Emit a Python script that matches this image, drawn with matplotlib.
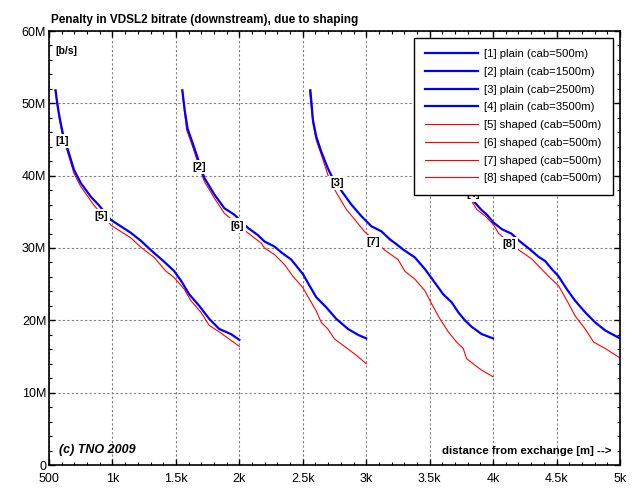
import numpy as np
import matplotlib.pyplot as plt
from matplotlib.ticker import MultipleLocator, FixedLocator

plt.rcParams['font.family'] = ['Liberation Sans', 'DejaVu Sans']

# ---- data (distance [m], bitrate [Mb/s]) ----
plain1_x = [552, 565, 583, 607, 645, 697, 750, 829, 894, 987, 1066, 1145, 1224, 1303, 1408, 1487, 1540, 1605, 1684, 1763, 1842, 1934, 2000]
plain1_y = [51.8, 50.0, 48.1, 46.0, 43.8, 40.8, 39.0, 37.1, 35.9, 33.9, 33.0, 32.1, 31.0, 29.7, 28.1, 26.8, 25.5, 23.6, 22.0, 20.2, 18.8, 18.1, 17.3]
shaped1_x = [548, 565, 583, 607, 645, 697, 750, 855, 992, 1145, 1224, 1329, 1421, 1487, 1566, 1619, 1698, 1763, 1842, 1921, 2000]
shaped1_y = [51.8, 49.7, 47.7, 45.5, 43.3, 40.3, 38.5, 35.9, 33.1, 31.4, 30.1, 28.7, 26.8, 25.9, 24.3, 22.7, 21.1, 19.3, 18.4, 17.4, 16.4]

plain2_x = [1551, 1570, 1592, 1632, 1684, 1724, 1803, 1882, 1961, 2066, 2145, 2198, 2277, 2330, 2409, 2501, 2553, 2606, 2685, 2764, 2857, 2935, 3000]
plain2_y = [51.8, 49.0, 46.5, 44.5, 41.8, 39.7, 37.4, 35.5, 34.6, 32.8, 31.8, 30.9, 30.2, 29.4, 28.4, 26.4, 24.8, 23.2, 21.8, 20.2, 18.8, 18.0, 17.5]
shaped2_x = [1548, 1570, 1585, 1632, 1684, 1724, 1803, 1882, 2066, 2171, 2198, 2277, 2356, 2422, 2501, 2553, 2606, 2646, 2698, 2751, 2844, 2920, 3000]
shaped2_y = [51.8, 48.5, 46.3, 44.0, 41.2, 39.2, 36.9, 34.8, 32.1, 30.7, 30.0, 29.1, 27.7, 26.1, 24.5, 22.9, 21.3, 19.7, 18.8, 17.4, 16.2, 15.2, 14.0]

plain3_x = [2560, 2580, 2606, 2646, 2698, 2740, 2817, 2883, 2962, 3041, 3120, 3186, 3240, 3290, 3383, 3462, 3541, 3607, 3673, 3726, 3778, 3831, 3910, 4000]
plain3_y = [51.8, 47.7, 45.4, 43.3, 41.0, 39.5, 37.6, 36.0, 34.4, 33.0, 32.3, 31.2, 30.5, 29.8, 28.7, 27.1, 25.2, 23.6, 22.5, 21.1, 20.0, 19.1, 18.1, 17.5]
shaped3_x = [2553, 2580, 2606, 2646, 2698, 2766, 2845, 2911, 2985, 3146, 3251, 3304, 3383, 3462, 3515, 3581, 3647, 3712, 3765, 3791, 3857, 3910, 4000]
shaped3_y = [51.8, 47.2, 44.9, 42.9, 40.1, 37.6, 35.3, 33.9, 32.3, 29.7, 28.4, 26.8, 25.7, 24.1, 22.3, 20.2, 18.4, 17.0, 16.1, 14.7, 13.8, 13.1, 12.2]

plain4_x = [3560, 3580, 3606, 3646, 3700, 3770, 3840, 3906, 3951, 4004, 4069, 4143, 4212, 4291, 4357, 4410, 4462, 4515, 4581, 4647, 4726, 4805, 4884, 5000]
plain4_y = [51.8, 47.7, 45.4, 43.3, 41.0, 38.8, 36.6, 35.3, 34.6, 33.5, 32.6, 32.0, 30.9, 29.8, 28.8, 28.2, 27.1, 26.1, 24.3, 22.7, 21.1, 19.7, 18.6, 17.5]
shaped4_x = [3553, 3580, 3606, 3646, 3700, 3770, 3840, 3873, 3939, 4004, 4044, 4212, 4304, 4370, 4436, 4515, 4567, 4647, 4726, 4792, 4884, 5000]
shaped4_y = [51.8, 47.2, 44.9, 42.9, 40.5, 38.3, 36.2, 35.3, 34.4, 33.2, 32.0, 29.6, 28.5, 27.3, 26.1, 24.8, 23.2, 20.6, 18.8, 17.0, 16.1, 14.8]

plain_labels = ["[1] plain (cab=500m)", "[2] plain (cab=1500m)",
                "[3] plain (cab=2500m)", "[4] plain (cab=3500m)"]
shaped_labels = ["[5] shaped (cab=500m)", "[6] shaped (cab=500m)",
                 "[7] shaped (cab=500m)", "[8] shaped (cab=500m)"]

# curve tags: (text, x, y)
tags = [("[1]", 604, 44.8), ("[5]", 910, 34.4),
        ("[2]", 1684, 41.2), ("[6]", 1982, 33.1),
        ("[3]", 2768, 39.0), ("[7]", 3054, 30.8),
        ("[4]", 3840, 37.4), ("[8]", 4127, 30.6)]

x_ticks = [500, 1000, 1500, 2000, 2500, 3000, 3500, 4000, 4500, 5000]
x_ticklabels = ["500", "1k", "1.5k", "2k", "2.5k", "3k", "3.5k", "4k", "4.5k", "5k"]
y_ticks = [0, 10, 20, 30, 40, 50, 60]
y_ticklabels = ["0", "10M", "20M", "30M", "40M", "50M", "60M"]

# ---- plot ----
fig = plt.figure(figsize=(6.37, 4.93), dpi=100)
ax = fig.add_axes([49 / 637, 1 - 465 / 493, 571 / 637, 434 / 493])

plains = [(plain1_x, plain1_y), (plain2_x, plain2_y), (plain3_x, plain3_y), (plain4_x, plain4_y)]
shapeds = [(shaped1_x, shaped1_y), (shaped2_x, shaped2_y), (shaped3_x, shaped3_y), (shaped4_x, shaped4_y)]

handles = []
for (x, y), lab in zip(plains, plain_labels):
    h, = ax.plot(x, y, color='#0000ff', lw=1.6, label=lab, zorder=3)
    handles.append(h)
for (x, y), lab in zip(shapeds, shaped_labels):
    h, = ax.plot(x, y, color='#ff0000', lw=0.8, label=lab, zorder=2)
    handles.append(h)

for t, x, y in tags:
    ax.text(x, y, t, fontsize=8, fontweight='bold', ha='center', va='center',
            bbox=dict(facecolor='white', edgecolor='none', pad=1.5), zorder=4)

ax.set_xlim(500, 5000)
ax.set_ylim(0, 60)
ax.xaxis.set_major_locator(FixedLocator(x_ticks))
ax.set_xticklabels(x_ticklabels)
ax.yaxis.set_major_locator(FixedLocator(y_ticks))
ax.set_yticklabels(y_ticklabels)
ax.xaxis.set_minor_locator(MultipleLocator(100))
ax.yaxis.set_minor_locator(MultipleLocator(2))
ax.tick_params(which='both', direction='in', top=True, right=True, labelsize=9)
ax.tick_params(axis='x', pad=6)
ax.tick_params(axis='y', pad=2)
ax.tick_params(which='major', length=4, width=1)
ax.tick_params(which='minor', length=2.5, width=0.8)
ax.grid(True, which='major', color='#808080', ls=(0, (2, 2)), lw=0.8)
for s in ax.spines.values():
    s.set_linewidth(1.2)

leg = ax.legend(handles=handles, loc='upper right', fontsize=8.2, frameon=True,
                fancybox=False, edgecolor='black', framealpha=1,
                handlelength=4.6, handletextpad=0.6, labelspacing=0.68,
                borderaxespad=0.6, borderpad=1.0)
leg.get_frame().set_linewidth(1.0)
leg.set_zorder(5)

ax.text(0.004, 1.012, "Penalty in VDSL2 bitrate (downstream), due to shaping",
        transform=ax.transAxes, fontsize=8.5, fontweight='bold', ha='left', va='bottom')
ax.text(0.012, 0.965, "[b/s]", transform=ax.transAxes, fontsize=7.5,
        fontweight='bold', ha='left', va='top')
ax.text(0.017, 0.02, "(c) TNO 2009", transform=ax.transAxes, fontsize=9,
        fontweight='bold', fontstyle='italic', ha='left', va='bottom')
ax.text(0.985, 0.02, "distance from exchange [m] -->", transform=ax.transAxes,
        fontsize=8.2, fontweight='bold', ha='right', va='bottom')

plt.savefig("out.png", dpi=100)
